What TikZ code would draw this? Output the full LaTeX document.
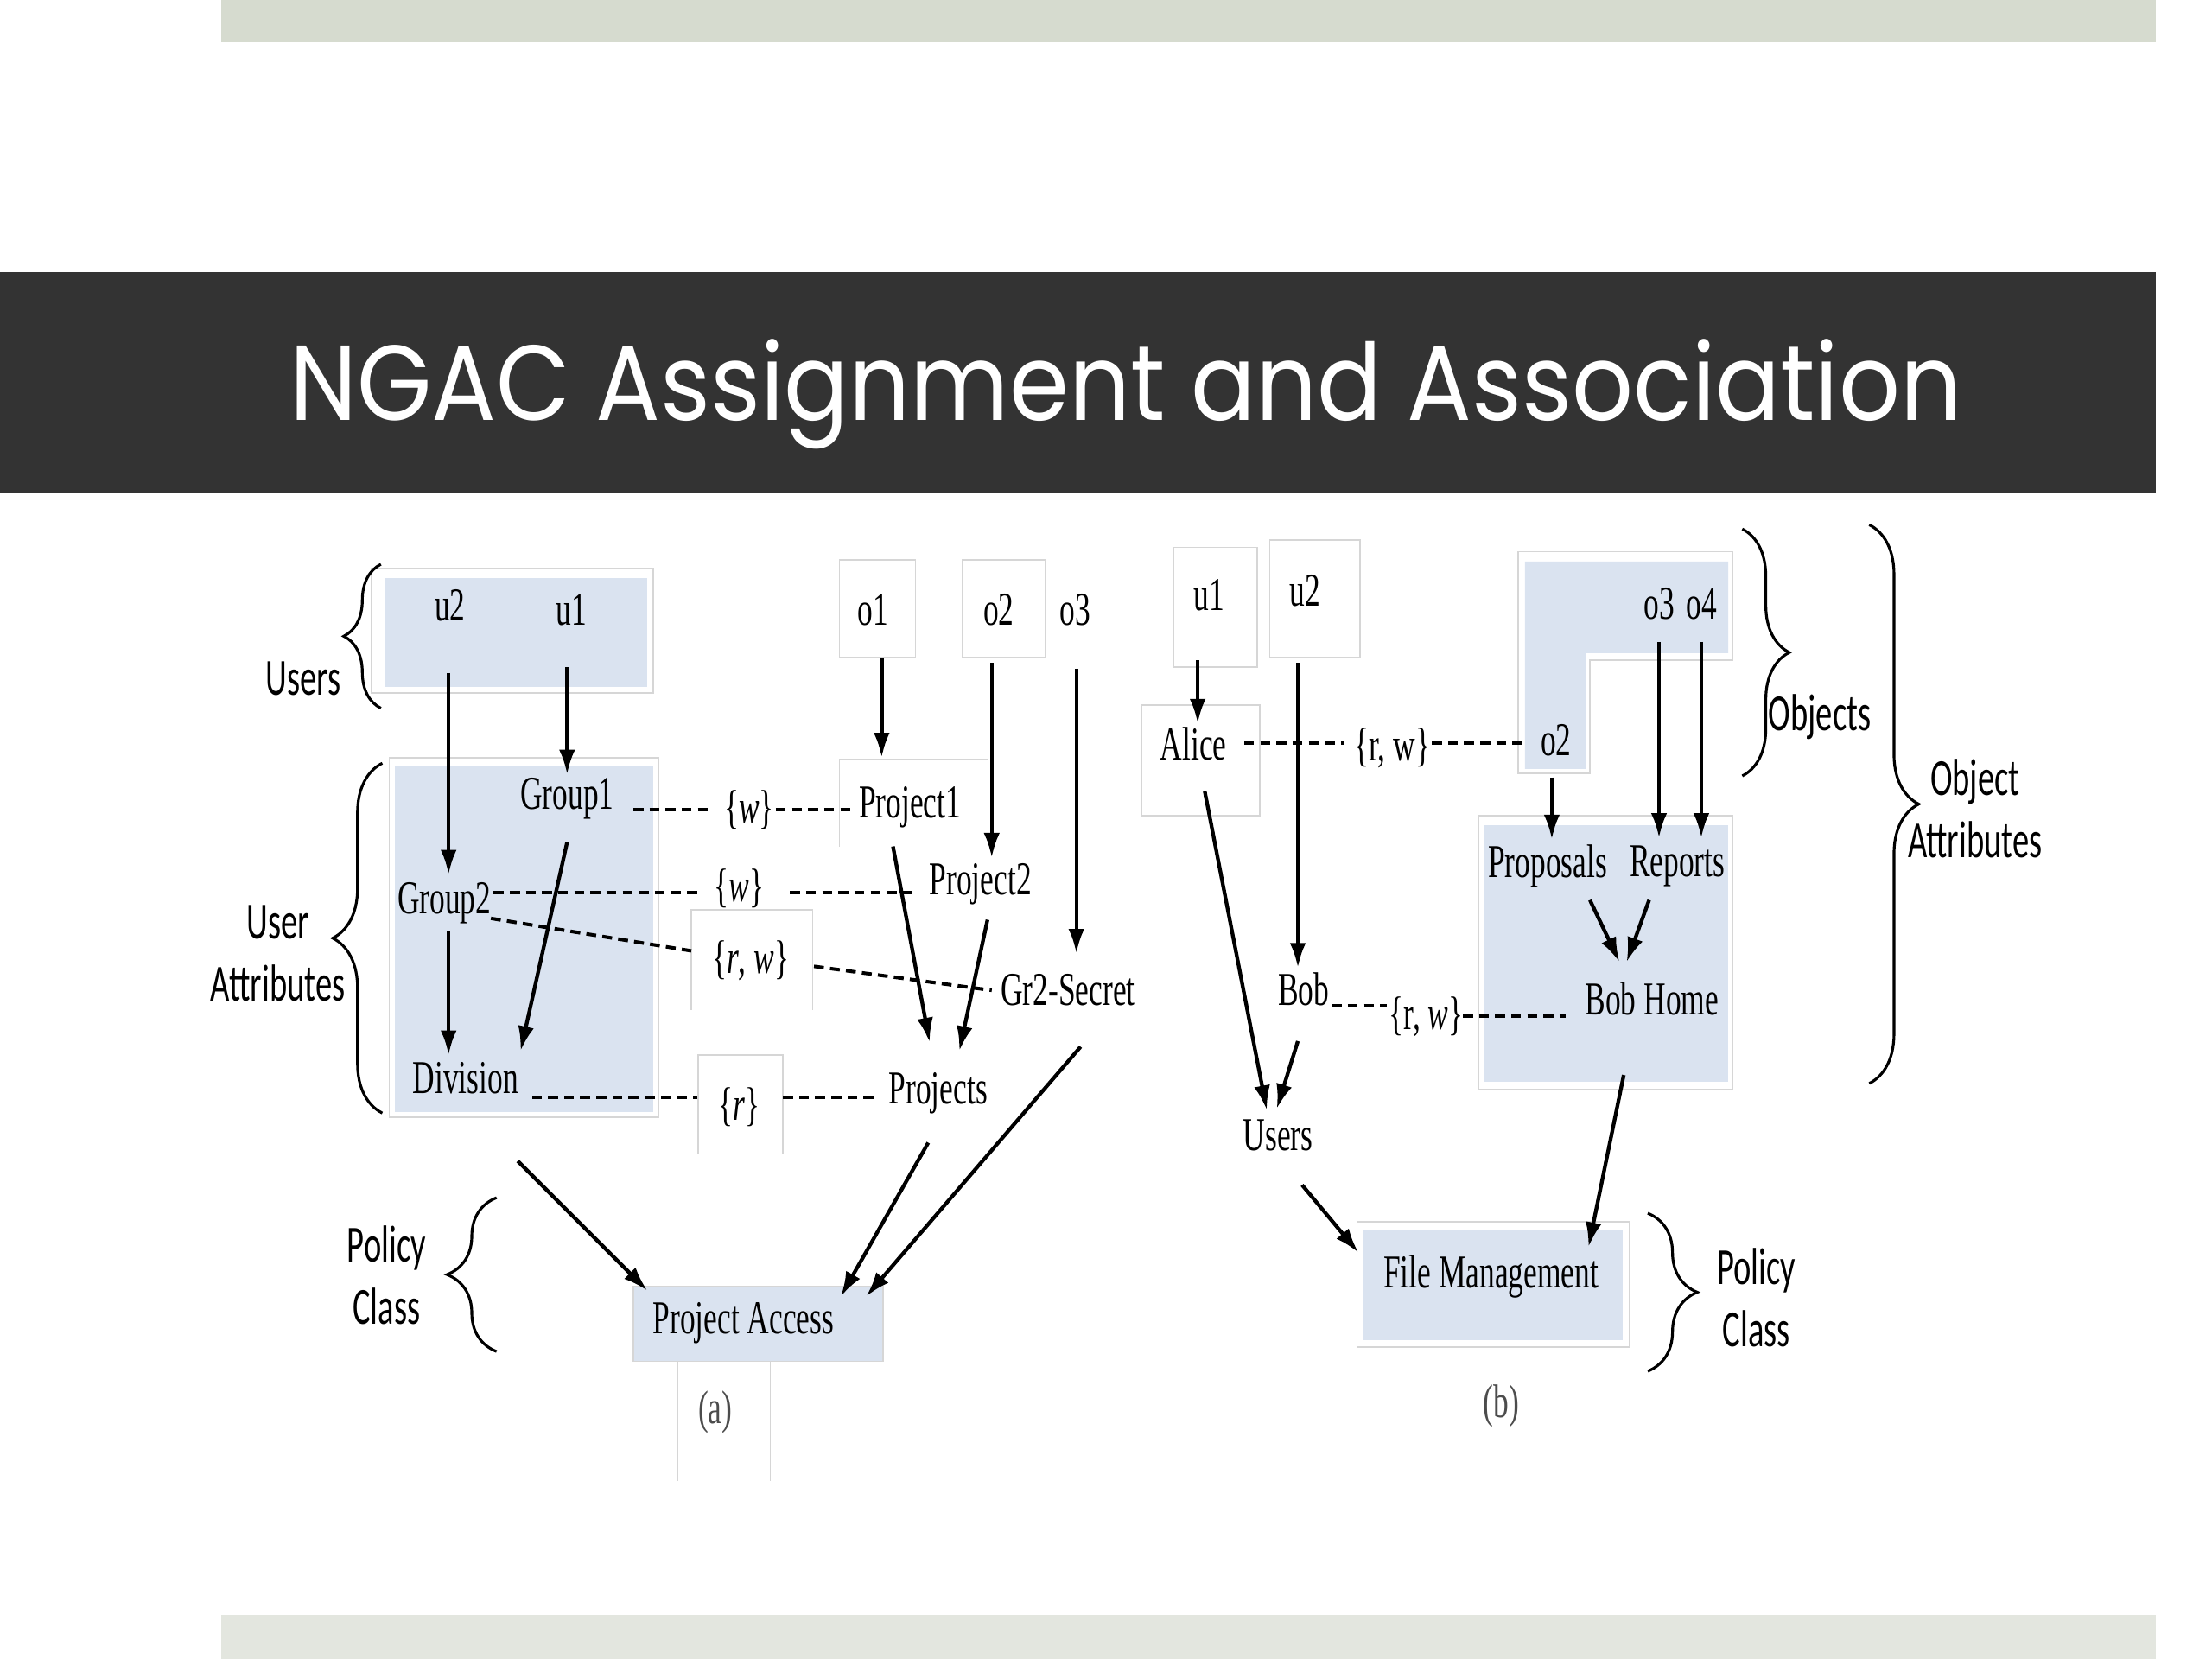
\documentclass[tikz,border=0pt]{standalone}
\usepackage{fontspec}
\usepackage{xcolor}
\usetikzlibrary{arrows.meta,calc,decorations.pathreplacing}
\newfontfamily\figfont{Liberation Serif}[FakeStretch=0.65]
\newfontfamily\bracefont{Carlito}[FakeStretch=0.64]
\newfontfamily\titlefont{Poppins}[FakeStretch=0.9]
\definecolor{slatebar}{HTML}{333333}
\definecolor{topbar}{HTML}{D6DBCF}
\definecolor{footbar}{HTML}{E3E6DF}
\definecolor{attrblue}{HTML}{DAE3F0}
\definecolor{ghost}{HTML}{D6D6D6}

\begin{document}
\begin{tikzpicture}[x=0.02cm,y=-0.02cm,>={Latex[length=10pt,width=6.5pt]},
    txt/.style={font=\figfont\fontsize{19}{21}\selectfont,inner sep=0pt},
    side/.style={font=\bracefont\fontsize{21}{25}\selectfont,align=center,
      inner sep=0pt},
    assign/.style={->,line width=1.5pt},
    assoc/.style={line width=1.4pt,dash pattern=on 4pt off 2.5pt},
    ghostbox/.style={draw=ghost,line width=0.6pt},
    curly/.style={decorate,decoration={brace,amplitude=#1},line width=1.1pt}]

    \useasboundingbox (0,0) rectangle (1568,1176);
    \fill[topbar] (157,0) rectangle (1528,30);
    \fill[slatebar] (0,193) rectangle (1528,349);
    \fill[footbar] (157,1145) rectangle (1528,1176);
    \node[anchor=base west,text=white,inner sep=0pt,
      font=\titlefont\fontsize{43}{50}\selectfont] (title) at (205,298)
      {NGAC Assignment and Association};

    % (a) boxes
    \draw[ghostbox] (263,403) rectangle (463,491);
    \fill[attrblue] (273,410) rectangle (459,487);
    \draw[ghostbox] (276,537) rectangle (467,792);
    \fill[attrblue] (280,543) rectangle (463,788);
    \draw[ghostbox] (595,397) rectangle (649,466);
    \draw[ghostbox] (682,397) rectangle (741,466);
    \draw[ghostbox] (595,600) -- (595,538) -- (700,538);
    \draw[ghostbox] (490,716) -- (490,645) -- (576,645) -- (576,716);
    \draw[ghostbox] (495,818) -- (495,748) -- (555,748) -- (555,818);
    \draw[ghostbox,fill=attrblue] (449,912) rectangle (626,965);
    \draw[ghostbox] (480,965) -- (480,1050) (546,965) -- (546,1050);

    % (a) nodes
    \node[txt] (u2a) at (319,429) {u2};
    \node[txt] (u1a) at (405,432) {u1};
    \node[txt] (g1) at (402,566) {Group1};
    \node[txt] (g2) at (315,640) {Group2};
    \node[txt] (div) at (330,764) {Division};
    \node[txt] (o1a) at (619,432) {o1};
    \node[txt] (o2a) at (708,432) {o2};
    \node[txt] (o3a) at (762,432) {o3};
    \node[txt] (p1) at (645,572) {Project1};
    \node[txt] (p2) at (695,627) {Project2};
    \node[txt] (gr2) at (757,702) {Gr2-Secret};
    \node[txt] (projs) at (665,775) {Projects};
    \node[txt] (w1) at (531,574) {\{\textit{w}\}};
    \node[txt] (w2) at (524,630) {\{\textit{w}\}};
    \node[txt] (rw) at (532,681) {\{\textit{r}, \textit{w}\}};
    \node[txt] (r1) at (524,785) {\{\textit{r}\}};
    \node[txt] (pa) at (527,938) {Project Access};
    \node[txt,text=black!70] (capa) at (507,1001) {(a)};

    \draw[curly=15pt] (270,502) -- (270,400);
    \draw[curly=20pt] (271,789) -- (271,541);
    \draw[curly=20pt] (352,958) -- (352,849);
    \node[side] (usersl) at (215,481) {Users};
    \node[side] (ual) at (197,676) {User\\Attributes};
    \node[side] (pcla) at (274,904) {Policy\\Class};

    \draw[assign] ($(u2a)+(-1,48)$) -- ($(g2)+(3,-20)$);
    \draw[assign] ($(u1a)+(-3,41)$) -- ($(g1)+(0,-17)$);
    \draw[assign] ($(g2)+(3,20)$) -- ($(div)+(-12,-16)$);
    \draw[assign] ($(g1)+(0,31)$) -- ($(div)+(39,-19)$);
    \draw[assign] ($(o1a)+(6,34)$) -- ($(p1)+(-20,-35)$);
    \draw[assign] ($(o2a)+(-5,38)$) -- ($(p2)+(8,-19)$);
    \draw[assign] ($(o3a)+(1,42)$) -- ($(gr2)+(6,-26)$);
    \draw[assign] ($(p1)+(-12,28)$) -- ($(projs)+(-6,-36)$);
    \draw[assign] ($(p2)+(5,25)$) -- ($(projs)+(15,-30)$);
    \draw[assign] ($(div)+(37,59)$) -- ($(pa)+(-68,-23)$);
    \draw[assign] ($(projs)+(-7,35)$) -- ($(pa)+(69,-19)$);
    \draw[assign] ($(gr2)+(9,40)$) -- ($(pa)+(87,-19)$);

    \draw[assoc] ($(g1)+(47,8)$) -- ($(w1)+(-26,0)$);
    \draw[assoc] ($(w1)+(19,0)$) -- ($(p1)+(-42,2)$);
    \draw[assoc] ($(g2)+(35,-7)$) -- ($(w2)+(-30,3)$);
    \draw[assoc] ($(w2)+(36,3)$) -- ($(p2)+(-44,6)$);
    \draw[assoc] ($(g2)+(33,11)$) -- ($(rw)+(-42,-7)$);
    \draw[assoc] ($(rw)+(45,4)$) -- ($(gr2)+(-54,0)$);
    \draw[assoc] ($(div)+(47,14)$) -- ($(r1)+(-30,-7)$);
    \draw[assoc] ($(r1)+(31,-7)$) -- ($(projs)+(-43,3)$);

    % (b) boxes
    \draw[ghostbox] (832,388) rectangle (891,473);
    \draw[ghostbox] (900,383) rectangle (964,466);
    \draw[ghostbox] (809,500) rectangle (893,578);
    \draw[ghostbox] (1076,391) -- (1228,391) -- (1228,468) -- (1127,468)
      -- (1127,548) -- (1076,548) -- cycle;
    \fill[attrblue] (1081,398) -- (1225,398) -- (1225,463) -- (1124,463)
      -- (1124,545) -- (1081,545) -- cycle;
    \draw[ghostbox] (1048,578) rectangle (1228,772);
    \fill[attrblue] (1052,585) rectangle (1225,767);
    \draw[ghostbox] (962,866) rectangle (1155,955);
    \fill[attrblue] (966,872) rectangle (1150,950);

    % (b) nodes
    \node[txt] (u1b) at (857,422) {u1};
    \node[txt] (u2b) at (925,419) {u2};
    \node[txt] (alice) at (846,527) {Alice};
    \node[txt] (bob) at (924,701) {Bob};
    \node[txt] (usersb) at (906,805) {Users};
    \node[txt] (o3b) at (1176,428) {o3};
    \node[txt] (o4b) at (1206,428) {o4};
    \node[txt] (o2b) at (1103,525) {o2};
    \node[txt] (props) at (1097,614) {Proposals};
    \node[txt] (reps) at (1189,614) {Reports};
    \node[txt] (bobhome) at (1171,708) {Bob Home};
    \node[txt] (rwb1) at (987,530) {\{r, w\}};
    \node[txt] (rwb2) at (1011,721) {\{r, \textit{w}\}};
    \node[txt] (fm) at (1057,905) {File Management};
    \node[txt,text=black!70] (capb) at (1064,997) {(b)};

    \draw[curly=19pt] (1235,375) -- (1235,550);
    \draw[curly=20pt] (1325,372) -- (1325,768);
    \draw[curly=20pt] (1168,860) -- (1168,972);
    \node[side] (objs) at (1290,508) {Objects};
    \node[side] (oattr) at (1400,573) {Object\\Attributes};
    \node[side] (pclb) at (1245,920) {Policy\\Class};

    \draw[assign] ($(u1b)+(-8,46)$) -- ($(alice)+(3,-14)$);
    \draw[assign] ($(u2b)+(-5,51)$) -- ($(bob)+(-4,-15)$);
    \draw[assign] ($(o2b)+(-3,26)$) -- ($(props)+(3,-19)$);
    \draw[assign] ($(o3b)+(0,27)$) -- ($(reps)+(-13,-20)$);
    \draw[assign] ($(o4b)+(0,27)$) -- ($(reps)+(17,-20)$);
    \draw[assign] ($(props)+(30,24)$) -- ($(bobhome)+(-23,-26)$);
    \draw[assign] ($(reps)+(-20,24)$) -- ($(bobhome)+(-18,-26)$);
    \draw[assign] ($(alice)+(8,34)$) -- ($(usersb)+(-8,-18)$);
    \draw[assign] ($(bob)+(-4,37)$) -- ($(usersb)+(-1,-19)$);
    \draw[assign] ($(usersb)+(17,35)$) -- ($(fm)+(-94,-17)$);
    \draw[assign] ($(bobhome)+(-20,54)$) -- ($(fm)+(69,-21)$);

    \draw[assoc] ($(alice)+(36,0)$) -- ($(rwb1)+(-34,-3)$);
    \draw[assoc] ($(rwb1)+(28,-3)$) -- ($(o2b)+(-19,2)$);
    \draw[assoc] ($(bob)+(20,12)$) -- ($(rwb2)+(-28,-8)$);
    \draw[assoc] ($(rwb2)+(26,-1)$) -- ($(bobhome)+(-61,12)$);
\end{tikzpicture}
\end{document}
